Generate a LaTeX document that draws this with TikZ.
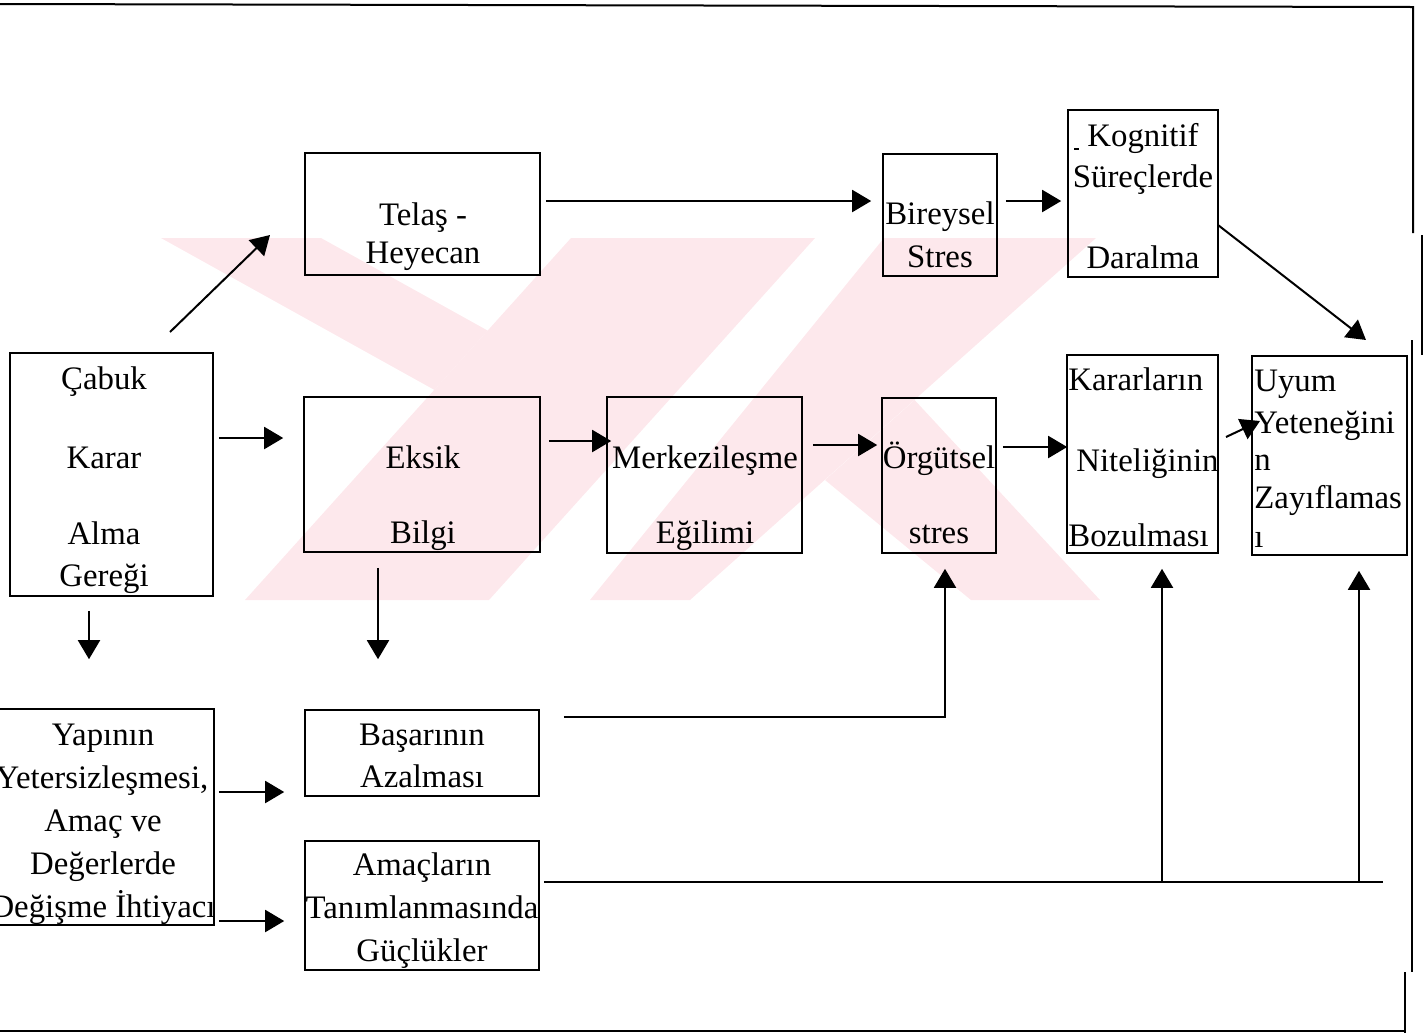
\documentclass[tikz,border=0pt]{standalone}
\usepackage{fontspec}
\setmainfont{Liberation Serif}
\usetikzlibrary{arrows.meta,fit}
\definecolor{wm}{RGB}{253,232,236}
\tikzset{
  box/.style={draw, line width=0.8pt, inner sep=0pt},
  txt/.style={font=\fontsize{16.4pt}{19pt}\selectfont, inner sep=0pt, anchor=base},
  txtl/.style={txt, anchor=base west},
  arr/.style={line width=1pt, -{Triangle[length=9.5pt,width=11pt]}},
  ln/.style={line width=1pt},
  frameline/.style={line width=1pt},
  wmfill/.style={fill=wm, draw=none}
}
\begin{document}
\begin{tikzpicture}[x=0.5pt,y=-0.5pt]
\useasboundingbox (0,0) rectangle (1425,1035);
\clip (0,0) rectangle (1425,1035);
% watermark
\fill[wmfill] (161,238) -- (321,238) -- (487.7,330.6) -- (434.4,389.9) -- cycle;
\fill[wmfill] (571,238) -- (815,238) -- (489,600) -- (245,600) -- cycle;
\fill[wmfill] (884,238) -- (1096,238) -- (690,600) -- (590,600) -- cycle;
\fill[wmfill] (825,480) -- (914.6,400) -- (1100,600) -- (971,600) -- cycle;
% frame
\draw[frameline] (0,4) -- (1413,7) -- (1413,233);
\draw[frameline] (1422,235) -- (1422,355);
\draw[frameline] (1412,340) -- (1412,972);
\draw[frameline] (1405,972) -- (1405,1033);
\draw[frameline] (0,1031) -- (1405,1031);
% boxes
\node[box, fit={(10,353)(213,596)}] (cab) {};
\node[box, fit={(305,153)(540,275)}] (tel) {};
\node[box, fit={(883,154)(997,276)}] (bir) {};
\node[box, fit={(1068,110)(1218,277)}] (kog) {};
\node[box, fit={(304,397)(540,552)}] (eks) {};
\node[box, fit={(607,397)(802,553)}] (mer) {};
\node[box, fit={(882,398)(996,553)}] (org) {};
\node[box, fit={(1067,355)(1218,553)}] (kar) {};
\node[box, fit={(1252,356)(1407,555)}] (uyu) {};
\node[box, fit={(-10,709)(214,925)}] (yap) {};
\node[box, fit={(305,710)(539,796)}] (bas) {};
\node[box, fit={(305,841)(539,970)}] (ama) {};
% texts
\node[txt] (cab1) at (104,389) {Çabuk};
\node[txt] (cab2) at (104,468) {Karar};
\node[txt] (cab3) at (104,544) {Alma};
\node[txt] (cab4) at (104,586) {Gereği};
\node[txt] (tel1) at (423,225) {Telaş -};
\node[txt] (tel2) at (423,263) {Heyecan};
\node[txt] (bir1) at (940,224) {Bireysel};
\node[txt] (bir2) at (940,267) {Stres};
\node[txt] (kog1) at (1143,146) {Kognitif};
\node[txt] (kog2) at (1143,187) {Süreçlerde};
\node[txt] (kog3) at (1143,268) {Daralma};
\draw[line width=0.8pt] (1074,149) -- (1079,149);
\node[txt] (eks1) at (423,468) {Eksik};
\node[txt] (eks2) at (423,543) {Bilgi};
\node[txt] (mer1) at (705,468) {Merkezileşme};
\node[txt] (mer2) at (705,543) {Eğilimi};
\node[txt] (org1) at (939,468) {Örgütsel};
\node[txt] (org2) at (939,543) {stres};
\node[txtl] (kar1) at (1068,390) {Kararların};
\node[txtl] (kar2) at (1076,471) {Niteliğinin};
\node[txtl] (kar3) at (1068,546) {Bozulması};
\node[txtl] (uyu1) at (1254,391) {Uyum};
\node[txtl] (uyu2) at (1254,433) {Yeteneğini};
\node[txtl] (uyu3) at (1254,470) {n};
\node[txtl] (uyu4) at (1254,508) {Zayıflamas};
\node[txtl] (uyu5) at (1254,547) {ı};
\node[txt] (yap1) at (103,745) {Yapının};
\node[txt] (yap2) at (102,788) {Yetersizleşmesi,};
\node[txt] (yap3) at (103,831) {Amaç ve};
\node[txt] (yap4) at (103,874) {Değerlerde};
\node[txt] (yap5) at (103,917) {Değişme İhtiyacı};
\node[txt] (bas1) at (422,745) {Başarının};
\node[txt] (bas2) at (422,787) {Azalması};
\node[txt] (ama1) at (422,875) {Amaçların};
\node[txt] (ama2) at (422,918) {Tanımlanmasında};
\node[txt] (ama3) at (422,961) {Güçlükler};
% connector coordinates
\coordinate (d1s) at (170,332);
\coordinate (d1e) at (270,235);
\coordinate (d2s) at (1218,225);
\coordinate (d2e) at (1366,340);
\coordinate (d3s) at (1226,437);
\coordinate (d3e) at (1260,421);
\coordinate (j1) at (1162,882);
\coordinate (j2) at (1359,882);
\coordinate (lend) at (1383,882);
% connectors
\draw[arr] (d1s) -- (d1e);
\draw[arr, shorten <=2.5pt, shorten >=10pt] (cab.east |- 0,438) -- (eks.west |- 0,438);
\draw[arr, shorten <=7pt, shorten >=24.5pt] (cab.south -| 89,0) -- (yap.north -| 89,0);
\draw[arr, shorten <=7.5pt, shorten >=25pt] (eks.south -| 378,0) -- (bas.north -| 378,0);
\draw[arr, shorten <=2.5pt, shorten >=5.5pt] (tel.east |- 0,201) -- (bir.west |- 0,201);
\draw[arr, shorten <=4pt, shorten >=3pt] (bir.east |- 0,201) -- (kog.west |- 0,201);
\draw[arr] (d2s) -- (d2e);
\draw[arr, shorten <=4pt, shorten >=-2.5pt] (eks.east |- 0,441) -- (mer.west |- 0,441);
\draw[arr, shorten <=5pt, shorten >=2pt] (mer.east |- 0,445) -- (org.west |- 0,445);
\draw[arr, shorten <=3pt, shorten >=-0.5pt] (org.east |- 0,447) -- (kar.west |- 0,447);
\draw[arr] (d3s) -- (d3e);
\draw[arr, shorten <=12pt, shorten >=7.5pt] (bas.east |- 0,717) -| ([xshift=3pt]org.south);
\draw[ln, shorten <=2pt] (ama.east |- 0,882) -- (lend);
\draw[arr, shorten >=7.5pt] (j1) -- (kar.south -| j1);
\draw[arr, shorten >=7.5pt] (j2) -- (uyu.south -| j2);
\draw[arr, shorten <=2pt, shorten >=10pt] (yap.east |- 0,792) -- (bas.west |- 0,792);
\draw[arr, shorten <=2pt, shorten >=10pt] (yap.east |- 0,921) -- (ama.west |- 0,921);
\end{tikzpicture}
\end{document}
